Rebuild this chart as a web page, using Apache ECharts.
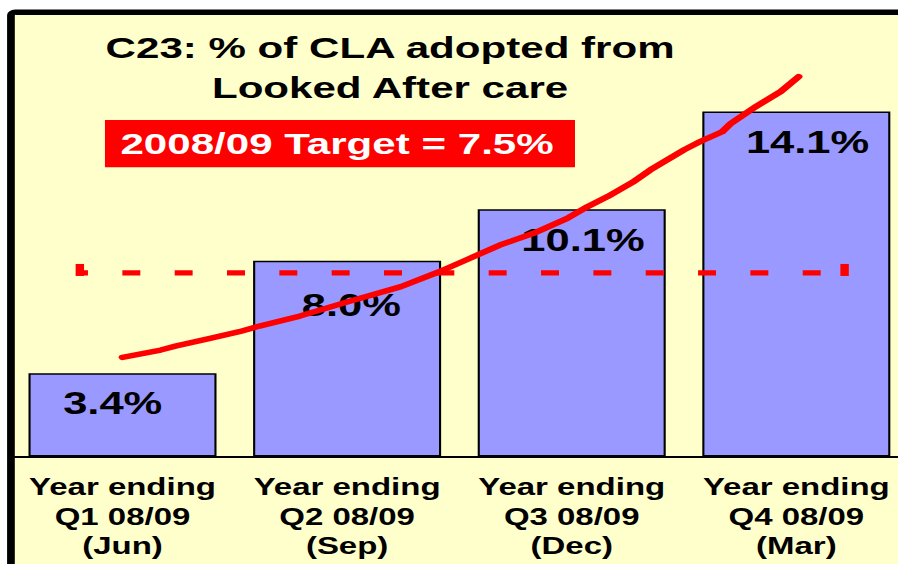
<!DOCTYPE html>
<html>
<head>
<meta charset="utf-8">
<script src="https://cdn.jsdelivr.net/npm/echarts@6/dist/echarts.min.js"></script>
<style>
    html, body { margin: 0; padding: 0; background: #fff; overflow: hidden; }
    /* the source picture is a horizontally stretched slide, so draw narrow and stretch */
    #container { width: 640px; height: 564px; transform: scaleX(1.403125); transform-origin: 0 0; }
</style>
</head>
<body>
<div id="container"></div>
<script>
var categories = [
    'Year ending\nQ1 08/09\n(Jun)',
    'Year ending\nQ2 08/09\n(Sep)',
    'Year ending\nQ3 08/09\n(Dec)',
    'Year ending\nQ4 08/09\n(Mar)'
];
var barValues = [3.4, 8.0, 10.1, 14.1];
var target = 7.5;
// target line runs from just right of the frame to past the last bar (category units)
var targetX = [-0.19, 3.215];
// hand drawn trend line (category units, %)
var trendX = [0, 0.17, 0.24, 0.39, 0.52, 0.61, 0.79, 1.0, 1.24, 1.41, 1.53, 1.68, 1.83,
    1.98, 2.07, 2.16, 2.27, 2.35, 2.5, 2.57, 2.67, 2.71, 2.82, 2.93, 3.01];
var trendY = [4.05, 4.35, 4.52, 4.83, 5.10, 5.33, 5.74, 6.31, 6.94, 7.55, 8.03, 8.64, 9.12,
    9.73, 10.21, 10.62, 11.20, 11.71, 12.53, 12.86, 13.27, 13.62, 14.30, 14.91, 15.52];

var font = "'Liberation Sans', Arial, sans-serif";

var dom = document.getElementById('container');
var myChart = echarts.init(dom, null, { renderer: 'svg' });

// the value labels are not quite centred in the original
var labelOffsets = [[-7, 0], [3, 14], [8, 0], [8, 0]];

var option = {
    animation: false,
    backgroundColor: '#fff',
    title: {
        text: 'C23: % of CLA adopted from\nLooked After care',
        left: 278,
        top: 27.5,
        padding: 0,
        textAlign: 'center',
        textVerticalAlign: 'top',
        textStyle: {
            fontFamily: font,
            fontSize: 30,
            fontWeight: 'bold',
            lineHeight: 40,
            color: '#000'
        }
    },
    graphic: [
        {
            // chart frame
            type: 'rect',
            z: -10,
            shape: { x: 7.8, y: 12.2, width: 700, height: 700, r: 3 },
            style: { fill: '#FFFFCC', stroke: '#000', lineWidth: 5.5 }
        },
        {
            type: 'rect',
            z: 10,
            shape: { x: 74.8, y: 120, width: 335, height: 47.3 },
            style: { fill: '#FF0000' }
        },
        {
            type: 'text',
            z: 11,
            x: 240.2,
            y: 143.6,
            style: {
                text: '2008/09 Target = ' + target + '%',
                font: 'bold 30px ' + font,
                fill: '#fff',
                align: 'center',
                verticalAlign: 'middle'
            }
        }
    ],
    grid: {
        left: 7.27,
        top: 16,
        width: 640.3,
        bottom: 107.5,
        outerBoundsMode: 'none'
    },
    xAxis: [{
        type: 'category',
        data: categories,
        axisLine: { lineStyle: { color: '#000', width: 2 } },
        axisTick: { length: 5, lineStyle: { color: '#000', width: 1.5 } },
        axisLabel: {
            interval: 0,
            margin: 16,
            fontFamily: font,
            fontSize: 23.5,
            fontWeight: 'bold',
            lineHeight: 29.5,
            color: '#000'
        }
    }, {
        type: 'value',
        min: -0.5,
        max: 3.5,
        show: false
    }],
    yAxis: {
        type: 'value',
        min: 0,
        max: 18,
        show: false
    },
    series: [
        {
            type: 'bar',
            data: barValues.map(function (v, i) {
                return { value: v, label: { offset: labelOffsets[i] } };
            }),
            barWidth: 134,
            z: 2,
            itemStyle: { color: '#9999FF', borderColor: '#000', borderWidth: 1.5 },
            label: {
                show: true,
                position: 'insideTop',
                distance: 15,
                fontFamily: font,
                fontSize: 31,
                fontWeight: 'bold',
                color: '#000',
                formatter: function (p) {
                    return p.value.toFixed(1) + '%';
                }
            }
        },
        {
            type: 'line',
            xAxisIndex: 1,
            data: targetX.map(function (x) { return [x, target]; }),
            symbol: 'rect',
            symbolSize: [6, 12],
            symbolOffset: [0, -3],
            showSymbol: true,
            silent: true,
            z: 4,
            itemStyle: { color: '#FF0000', borderWidth: 0 },
            lineStyle: { color: '#FF0000', width: 5.3, type: [12.8, 24.5], dashOffset: 7.3 }
        },
        {
            type: 'line',
            xAxisIndex: 1,
            data: trendX.map(function (x, i) { return [x, trendY[i]]; }),
            symbol: 'none',
            silent: true,
            z: 5,
            lineStyle: { color: '#FF0000', width: 5.5, cap: 'round', join: 'round' }
        }
    ]
};

myChart.setOption(option);
</script>
</body>
</html>
